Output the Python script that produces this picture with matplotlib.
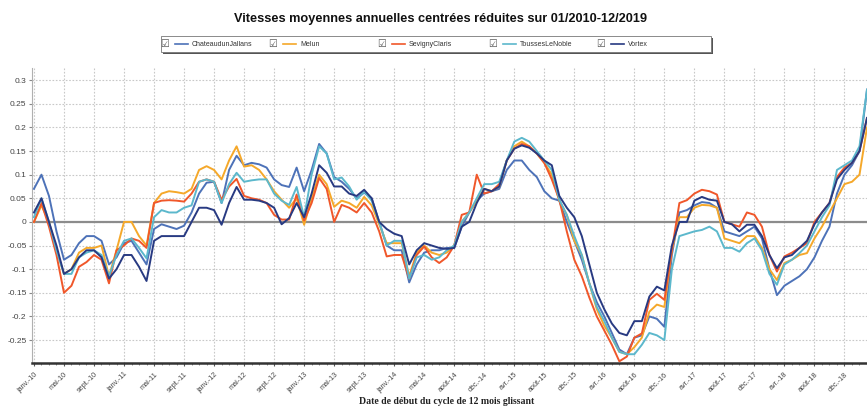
import numpy as np
import matplotlib
matplotlib.use("Agg")
import matplotlib.pyplot as plt
from matplotlib.lines import Line2D
from matplotlib.patches import Rectangle

plt.rcParams['font.family'] = ['Liberation Sans', 'DejaVu Sans']

# one value per month, cycles starting janv.-10
chateaudun = [0.07, 0.10, 0.055, -0.02, -0.08, -0.07, -0.045, -0.03, -0.03, -0.04,
              -0.09, -0.075, -0.045, -0.04, -0.065, -0.09, -0.015, -0.005, -0.01, -0.015,
              -0.008, 0.02, 0.06, 0.083, 0.085, 0.04, 0.11, 0.14, 0.12, 0.125,
              0.122, 0.115, 0.09, 0.078, 0.074, 0.115, 0.065, 0.11, 0.165, 0.145,
              0.095, 0.085, 0.07, 0.05, 0.062, 0.05, 0.0, -0.05, -0.06, -0.06,
              -0.128, -0.09, -0.065, -0.06, -0.06, -0.055, -0.055, -0.01, 0.02, 0.045,
              0.06, 0.065, 0.07, 0.11, 0.13, 0.13, 0.11, 0.095, 0.065, 0.05,
              0.045, 0.0, -0.04, -0.08, -0.13, -0.17, -0.2, -0.235, -0.27, -0.28,
              -0.245, -0.24, -0.2, -0.205, -0.222, -0.07, 0.02, 0.025, 0.035, 0.042,
              0.04, 0.03, -0.02, -0.025, -0.03, -0.02, -0.01, -0.035, -0.1, -0.155,
              -0.135, -0.125, -0.115, -0.1, -0.075, -0.04, -0.01, 0.06, 0.1, 0.12,
              0.15, 0.28]
melun = [0.0, 0.035, 0.0, -0.06, -0.11, -0.1, -0.065, -0.055, -0.055, -0.05,
         -0.115, -0.06, 0.0, 0.0, -0.03, -0.05, 0.04, 0.06, 0.065, 0.063,
         0.06, 0.07, 0.11, 0.118, 0.11, 0.09, 0.13, 0.16, 0.117, 0.12,
         0.11, 0.09, 0.065, 0.047, 0.03, 0.05, -0.006, 0.05, 0.1, 0.08,
         0.032, 0.045, 0.04, 0.03, 0.053, 0.035, -0.005, -0.045, -0.045, -0.045,
         -0.115, -0.065, -0.05, -0.065, -0.07, -0.065, -0.05, 0.0, 0.02, 0.045,
         0.07, 0.065, 0.075, 0.13, 0.16, 0.17, 0.16, 0.145, 0.125, 0.1,
         0.045, 0.015, -0.04, -0.07, -0.13, -0.185, -0.22, -0.245, -0.275, -0.28,
         -0.265, -0.245, -0.19, -0.175, -0.18, -0.06, 0.01, 0.01, 0.03, 0.036,
         0.035, 0.03, -0.035, -0.04, -0.045, -0.03, -0.03, -0.055, -0.1, -0.123,
         -0.087, -0.08, -0.07, -0.066, -0.035, -0.01, 0.02, 0.05, 0.08, 0.085,
         0.1, 0.2]
sevigny = [0.0, 0.04, -0.01, -0.07, -0.15, -0.135, -0.095, -0.085, -0.07, -0.08,
           -0.13, -0.06, -0.05, -0.035, -0.04, -0.055, 0.04, 0.045, 0.046, 0.045,
           0.043, 0.06, 0.085, 0.09, 0.085, 0.047, 0.075, 0.091, 0.055, 0.05,
           0.047, 0.04, 0.015, 0.005, 0.005, 0.058, 0.003, 0.04, 0.093, 0.07,
           0.0, 0.036, 0.03, 0.02, 0.04, 0.02, -0.02, -0.073, -0.07, -0.07,
           -0.12, -0.07, -0.052, -0.075, -0.087, -0.075, -0.05, 0.015, 0.02, 0.1,
           0.06, 0.065, 0.08, 0.13, 0.155, 0.165, 0.16, 0.145, 0.125, 0.09,
           0.047, -0.02, -0.08, -0.115, -0.16, -0.2, -0.23, -0.26, -0.295, -0.285,
           -0.245, -0.236, -0.165, -0.152, -0.165, -0.06, 0.04, 0.046, 0.06, 0.068,
           0.065, 0.058, 0.0, -0.005, -0.01, 0.02, 0.015, -0.01, -0.07, -0.105,
           -0.073, -0.065, -0.055, -0.045, 0.0, 0.02, 0.04, 0.095, 0.115, 0.125,
           0.15, 0.22]
tousses = [0.01, 0.05, 0.0, -0.06, -0.11, -0.11, -0.075, -0.065, -0.06, -0.07,
           -0.115, -0.07, -0.04, -0.035, -0.055, -0.077, 0.01, 0.025, 0.02, 0.02,
           0.03, 0.035, 0.085, 0.09, 0.085, 0.04, 0.08, 0.104, 0.085, 0.088,
           0.09, 0.09, 0.06, 0.045, 0.036, 0.074, 0.01, 0.1, 0.16, 0.145,
           0.09, 0.094, 0.075, 0.047, 0.064, 0.045, 0.0, -0.05, -0.04, -0.04,
           -0.12, -0.075, -0.07, -0.08, -0.075, -0.06, -0.05, 0.0, 0.02, 0.05,
           0.08, 0.08, 0.085, 0.13, 0.17, 0.178, 0.17, 0.15, 0.13, 0.11,
           0.047, 0.015, -0.03, -0.07, -0.13, -0.18, -0.21, -0.245, -0.275, -0.28,
           -0.28, -0.26, -0.235, -0.24, -0.25, -0.1, -0.03, -0.025, -0.02, -0.017,
           -0.01, -0.02, -0.055, -0.055, -0.063, -0.045, -0.035, -0.06, -0.11, -0.133,
           -0.09, -0.08, -0.066, -0.05, -0.02, 0.01, 0.035, 0.11, 0.12, 0.13,
           0.16, 0.28]
vortex = [0.02, 0.05, 0.0, -0.05, -0.11, -0.1, -0.075, -0.06, -0.06, -0.075,
          -0.12, -0.1, -0.07, -0.07, -0.095, -0.125, -0.04, -0.03, -0.03, -0.03,
          -0.03, 0.0, 0.03, 0.03, 0.025, -0.006, 0.04, 0.074, 0.047, 0.047,
          0.045, 0.04, 0.03, -0.005, 0.008, 0.04, 0.01, 0.06, 0.12, 0.104,
          0.075, 0.075, 0.06, 0.055, 0.068, 0.05, 0.0, -0.015, -0.025, -0.03,
          -0.09, -0.06, -0.045, -0.05, -0.055, -0.057, -0.055, -0.01, 0.0, 0.04,
          0.07, 0.065, 0.075, 0.13, 0.155, 0.162, 0.157, 0.145, 0.13, 0.12,
          0.055, 0.03, 0.01, -0.03, -0.09, -0.15, -0.185, -0.215, -0.235, -0.24,
          -0.21, -0.21, -0.158, -0.137, -0.145, -0.05, 0.0, 0.0, 0.045, 0.053,
          0.047, 0.045, 0.0, -0.005, -0.02, -0.006, -0.006, -0.03, -0.07, -0.098,
          -0.075, -0.07, -0.055, -0.04, -0.005, 0.02, 0.04, 0.09, 0.11, 0.125,
          0.15, 0.22]

series_names = ['ChateaudunJallans', 'Melun', 'SevignyClaris', 'ToussesLeNoble', 'Vortex']
series_values = [chateaudun, melun, sevigny, tousses, vortex]
series_colors = ['#4d72b8', '#f5a82a', '#f0572a', '#5cb8cc', '#283a82']

tick_labels = ['janv.-10', 'mai-10', 'sept.-10', 'janv.-11', 'mai-11', 'sept.-11',
               'janv.-12', 'mai-12', 'sept.-12', 'janv.-13', 'mai-13', 'sept.-13',
               'janv.-14', 'mai-14', 'août-14', 'déc.-14', 'avr.-15', 'août-15',
               'déc.-15', 'avr.-16', 'août-16', 'déc.-16', 'avr.-17', 'août-17',
               'déc.-17', 'avr.-18', 'août-18', 'déc.-18']

fig = plt.figure(figsize=(8.67, 4.09), dpi=100)
ax = fig.add_axes([0.037, 0.112, 0.963, 0.722])

for name, vals, col in zip(series_names, series_values, series_colors):
    ax.plot(np.arange(len(vals)), vals, color=col, lw=1.4, label=name, zorder=3)

ax.axhline(0, color='#8c8c8c', lw=1.6, zorder=2)

ax.set_xlim(-0.25, 111)
ax.set_ylim(-0.299, 0.326)
ax.set_xticks(np.arange(0, 4 * len(tick_labels), 4))
ax.set_xticklabels(tick_labels, rotation=45, ha='right', rotation_mode='anchor',
                   fontsize=5.2, color='#444444')
ax.set_xticks(np.arange(0, 111, 1), minor=True)
yt = np.arange(-0.25, 0.31, 0.05)
ax.set_yticks(yt)
ax.set_yticklabels(['%g' % (round(v, 2) + 0.0) for v in yt], fontsize=6, color='#444444')
ax.tick_params(axis='x', which='major', length=2.5, color='#555555', pad=3)
ax.tick_params(axis='x', which='minor', length=1.5, color='#777777')
ax.tick_params(axis='y', length=2, color='#888888', pad=2)

ax.grid(True, color='#c8c8c8', linestyle=(0, (1.5, 1.5)), lw=0.8)
for s in ['top', 'right']:
    ax.spines[s].set_visible(False)
ax.spines['left'].set_color('#b0b0b0')
ax.spines['left'].set_linewidth(0.8)
ax.spines['bottom'].set_color('#333333')
ax.spines['bottom'].set_linewidth(1.8)

fig.text(0.508, 0.953, 'Vitesses moyennes annuelles centrées réduites sur 01/2010-12/2019',
         ha='center', va='center', fontsize=9.2, fontweight='bold', color='#111111')
fig.text(0.515, 0.018, 'Date de début du cycle de 12 mois glissant',
         ha='center', va='center', fontsize=7, fontweight='bold',
         family=['Liberation Serif', 'DejaVu Serif'], color='#222222')

# legend box drawn like the source widget (checkbox, line, name)
W, H = 867.0, 409.0
fig.patches.append(Rectangle((163 / W, 1 - 54 / H), 550 / W, 16 / H, transform=fig.transFigure,
                             facecolor='#555555', edgecolor='none', zorder=1))
fig.patches.append(Rectangle((161 / W, 1 - 52 / H), 550 / W, 16 / H, transform=fig.transFigure,
                             facecolor='white', edgecolor='#777777', lw=0.6, zorder=2))
ly = 1 - 44 / H
for c, name, col in zip([165, 273, 382, 493, 601], series_names, series_colors):
    fig.text(c / W, ly, '\u2611', ha='center', va='center', fontsize=7,
             family='DejaVu Sans', color='#555555', zorder=3)
    fig.add_artist(Line2D([(c + 10) / W, (c + 23) / W], [ly, ly], color=col, lw=1.2,
                          transform=fig.transFigure, zorder=3))
    fig.text((c + 27) / W, ly, name, ha='left', va='center', fontsize=5,
             color='#333333', zorder=3)

fig.savefig('out.png', dpi=100)
